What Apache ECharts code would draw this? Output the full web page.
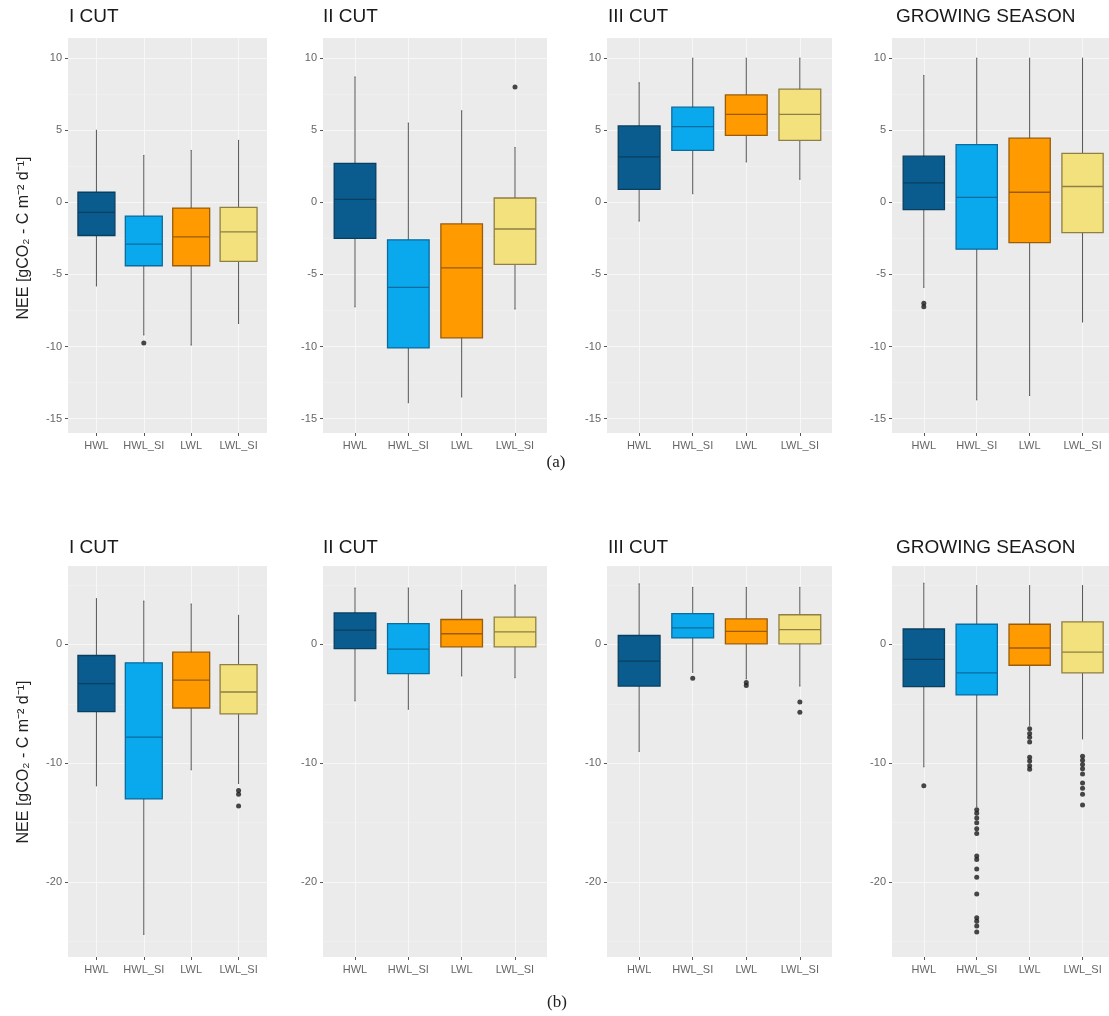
<!DOCTYPE html>
<html><head><meta charset="utf-8">
<script src="https://cdn.jsdelivr.net/npm/echarts@6/dist/echarts.min.js"></script>
<style>html,body{margin:0;padding:0;background:#fff}#c{width:1109px;height:1016px}</style>
</head><body><div id="c"></div>
<script>
// ---------- data ----------
const categories = ['HWL', 'HWL_SI', 'LWL', 'LWL_SI'];
const panelTitles = ['I CUT', 'II CUT', 'III CUT', 'GROWING SEASON'];
const rowLabels = ['(a)', '(b)'];
const yAxisTitle = 'NEE [gCO\u2082 - C m\u207B\u00B2 d\u207B\u00B9]';
const ticksA = [-15, -10, -5, 0, 5, 10];
const ticksB = [-20, -10, 0];

// each box: [lower whisker, Q1, median, Q3, upper whisker]
const a_I   = [[-5.8, -2.3, -0.7, 0.7, 5.0], [-9.2, -4.4, -2.9, -0.95, 3.25], [-9.9, -4.4, -2.4, -0.4, 3.6], [-8.4, -4.1, -2.05, -0.35, 4.3]];
const a_II  = [[-7.25, -2.5, 0.2, 2.7, 8.7], [-13.9, -10.1, -5.9, -2.6, 5.5], [-13.5, -9.4, -4.55, -1.5, 6.35], [-7.4, -4.3, -1.85, 0.3, 3.8]];
const a_III = [[-1.3, 0.9, 3.15, 5.3, 8.3], [0.6, 3.6, 5.25, 6.6, 10.0], [2.8, 4.65, 6.1, 7.45, 10.0], [1.6, 4.3, 6.1, 7.85, 10.0]];
const a_GS  = [[-5.9, -0.5, 1.35, 3.2, 8.8], [-13.7, -3.25, 0.35, 4.0, 10.0], [-13.4, -2.8, 0.7, 4.45, 10.0], [-8.3, -2.1, 1.1, 3.4, 10.0]];
const b_I   = [[-11.9, -5.65, -3.3, -0.93, 3.85], [-24.4, -13.0, -7.8, -1.55, 3.65], [-10.55, -5.35, -3.0, -0.65, 3.4], [-11.7, -5.85, -4.0, -1.7, 2.45]];
const b_II  = [[-4.75, -0.35, 1.2, 2.65, 4.75], [-5.45, -2.45, -0.4, 1.75, 4.75], [-2.65, -0.2, 0.9, 2.1, 4.55], [-2.8, -0.2, 1.05, 2.3, 5.0]];
const b_III = [[-9.0, -3.5, -1.4, 0.75, 5.1], [-2.35, 0.55, 1.4, 2.6, 4.8], [-2.9, 0.05, 1.1, 2.15, 4.8], [-3.5, 0.05, 1.25, 2.5, 4.8]];
const b_GS  = [[-10.3, -3.55, -1.25, 1.3, 5.15], [-13.65, -4.25, -2.4, 1.7, 4.95], [-6.8, -1.75, -0.3, 1.7, 4.95], [-7.95, -2.4, -0.65, 1.9, 4.95]];

// outliers: [category, value]
const a_I_out   = [['HWL_SI', -9.75]];
const a_II_out  = [['LWL_SI', 8.0]];
const a_III_out = [];
const a_GS_out  = [['HWL', -7.0], ['HWL', -7.25]];
const b_I_out   = [['LWL_SI', -12.3], ['LWL_SI', -12.6], ['LWL_SI', -13.6]];
const b_II_out  = [];
const b_III_out = [['HWL_SI', -2.85], ['LWL', -3.2], ['LWL', -3.45], ['LWL_SI', -4.85], ['LWL_SI', -5.7]];
const b_GS_out  = [
  ['HWL', -11.9],
  ['HWL_SI', -13.9], ['HWL_SI', -14.2], ['HWL_SI', -14.6], ['HWL_SI', -15.0], ['HWL_SI', -15.5], ['HWL_SI', -15.9],
  ['HWL_SI', -17.8], ['HWL_SI', -18.1], ['HWL_SI', -18.9], ['HWL_SI', -19.6], ['HWL_SI', -21.0],
  ['HWL_SI', -23.0], ['HWL_SI', -23.3], ['HWL_SI', -23.7], ['HWL_SI', -24.2],
  ['LWL', -7.1], ['LWL', -7.5], ['LWL', -7.8], ['LWL', -8.2], ['LWL', -9.5], ['LWL', -9.8], ['LWL', -10.2], ['LWL', -10.5],
  ['LWL_SI', -9.4], ['LWL_SI', -9.75], ['LWL_SI', -10.1], ['LWL_SI', -10.45], ['LWL_SI', -10.9], ['LWL_SI', -11.65],
  ['LWL_SI', -12.1], ['LWL_SI', -12.6], ['LWL_SI', -13.5]
];

// ---------- style / layout ----------
const fills    = ['#0b5c8e', '#0aa9ee', '#ff9a00', '#f2e17d'];
const outlines = ['#083f61', '#0b6b9c', '#9a5c0a', '#8f7f44'];
const FONT = 'Liberation Sans, Arial, sans-serif';

const colLeft  = [68, 323, 607, 892];
const colWidth = [199, 224, 225, 225];
const rowTop = [38, 566];
const rowH = [395, 391];
const yRange = [[-16.0, 11.4], [-26.3, 6.6]];
const ySplit = [5, 3];
const yTicks = [ticksA, ticksB];
const titleX = [69, 323, 608, 896];
const titleY = [17, 548];

const panels = [
  [a_I, a_I_out], [a_II, a_II_out], [a_III, a_III_out], [a_GS, a_GS_out],
  [b_I, b_I_out], [b_II, b_II_out], [b_III, b_III_out], [b_GS, b_GS_out]
];

const grid = [], xAxis = [], yAxis = [], series = [], graphic = [];

panels.forEach(([box, out], i) => {
  const r = Math.floor(i / 4), c = i % 4;
  const L = colLeft[c], W = colWidth[c], T = rowTop[r], H = rowH[r];
  const [ymin, ymax] = yRange[r];
  // background grid with y axis
  const gb = grid.length;
  grid.push({left: L, top: T, width: W, height: H, show: true, backgroundColor: '#EBEBEB', borderWidth: 0});
  xAxis.push({gridIndex: gb, type: 'value', show: false, min: 0, max: 1, axisLine: {onZero: false}});
  yAxis.push({
    gridIndex: gb, type: 'value', min: ymin, max: ymax, splitNumber: ySplit[r],
    axisLine: {show: false, onZero: false},
    axisTick: {show: true, length: 3, customValues: yTicks[r], lineStyle: {color: '#555', width: 1}},
    axisLabel: {customValues: yTicks[r], color: '#666', fontSize: 11, margin: 6, fontFamily: FONT},
    splitLine: {show: true, lineStyle: {color: '#f7f7f7', width: 1}},
    minorTick: {show: false, splitNumber: 2},
    minorSplitLine: {show: true, lineStyle: {color: '#f2f2f2', width: 0.6}}
  });
  // inner grid (ggplot discrete expansion 0.6 units each side)
  const band = W / 4.2;
  const gi = grid.length;
  grid.push({left: L + 0.1 * band, top: T, width: 4 * band, height: H, show: false});
  const xi = xAxis.length;
  xAxis.push({
    gridIndex: gi, type: 'category', data: categories,
    axisLine: {show: false, onZero: false},
    axisTick: {show: true, alignWithLabel: true, interval: 0, length: 3, lineStyle: {color: '#555'}},
    axisLabel: {interval: 0, color: '#666', fontSize: 11, margin: 7, fontFamily: FONT},
    splitLine: {show: true, alignWithLabel: true, interval: 0, lineStyle: {color: '#f7f7f7', width: 1}}
  });
  const xi2 = xAxis.length;
  xAxis.push({gridIndex: gi, type: 'category', data: categories, position: 'top', show: false,
    axisLine: {onZero: false}, splitLine: {show: false}});
  const yi = yAxis.length;
  yAxis.push({gridIndex: gi, type: 'value', min: ymin, max: ymax, show: false,
    axisLine: {onZero: false}, splitLine: {show: false}});

  // whiskers (grey)
  series.push({
    type: 'boxplot', xAxisIndex: xi2, yAxisIndex: yi, boxWidth: [1, 1], silent: true,
    itemStyle: {color: '#555', borderColor: '#555', borderWidth: 1},
    data: box
  });
  // boxes (Q1..Q3 with median)
  series.push({
    type: 'boxplot', xAxisIndex: xi, yAxisIndex: yi, boxWidth: ['78%', '78%'], silent: true,
    data: box.map((d, k) => ({
      value: [d[1], d[1], d[2], d[3], d[3]],
      itemStyle: {color: fills[k], borderColor: outlines[k], borderWidth: 1.3}
    }))
  });
  // outliers
  series.push({
    type: 'scatter', xAxisIndex: xi, yAxisIndex: yi, symbolSize: 5, silent: true,
    itemStyle: {color: '#1a1a1a'}, data: out
  });
  // panel title
  graphic.push({type: 'text', x: titleX[c], y: titleY[r],
    style: {text: panelTitles[c], fill: '#1a1a1a', font: '19px ' + FONT, verticalAlign: 'middle', align: 'left'}});
});

// y-axis titles
[238, 762].forEach(y => graphic.push({type: 'text', x: 24, y: y, rotation: Math.PI / 2,
  style: {text: yAxisTitle, fill: '#222', font: '16px ' + FONT, align: 'center', verticalAlign: 'middle'}}));
// (a) / (b)
[[556, 463], [557, 1003]].forEach(([x, y], k) => graphic.push({type: 'text', x: x, y: y,
  style: {text: rowLabels[k], fill: '#222', font: '17px Liberation Serif, DejaVu Serif, serif', align: 'center', verticalAlign: 'middle'}}));

const chart = echarts.init(document.getElementById('c'), null, {renderer: 'canvas'});
chart.setOption({
  animation: false,
  textStyle: {fontFamily: FONT},
  grid, xAxis, yAxis, series, graphic
});
</script></body></html>
